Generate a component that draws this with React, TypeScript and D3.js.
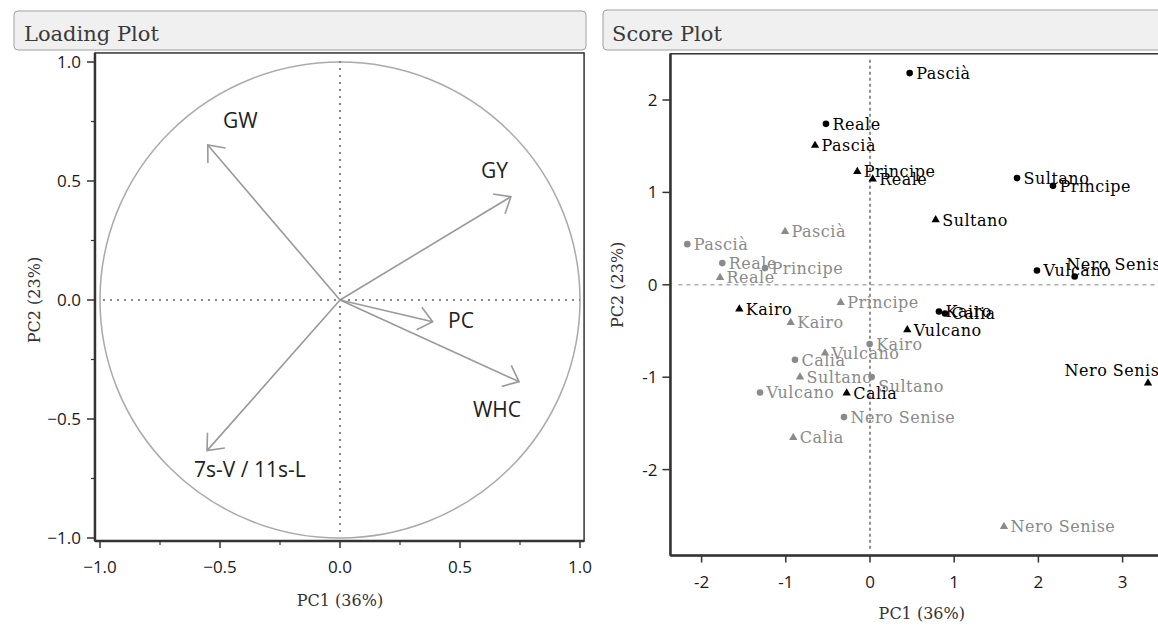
import React from "react";
import * as d3 from "d3";

// ---------- Loading plot data ----------
const loadingVars = ["GW", "GY", "PC", "WHC", "7s-V / 11s-L"];
const loadingPC1 = [-0.551, 0.712, 0.386, 0.746, -0.554];
const loadingPC2 = [0.651, 0.434, -0.091, -0.343, -0.633];
const loadingLabelPC1 = [-0.4875, 0.5875, 0.45, 0.554, -0.608];
const loadingLabelPC2 = [0.723, 0.513, -0.118, -0.492, -0.744];
const loadingTicks = [-1, -0.5, 0, 0.5, 1];
const loadingMinorTicks = [-0.75, -0.25, 0.25, 0.75];

// ---------- Score plot data ----------
const varieties = ["Pascià", "Reale", "Principe", "Sultano", "Kairo", "Vulcano", "Calia", "Nero Senise"];
const blackCirclePC1 = [0.471, -0.523, 2.173, 1.746, 0.819, 1.983, 0.891, 2.431];
const blackCirclePC2 = [2.291, 1.742, 1.071, 1.155, -0.289, 0.155, -0.31, 0.09];
const blackTrianglePC1 = [-0.653, 0.032, -0.151, 0.78, -1.552, 0.443, -0.277, 3.302];
const blackTrianglePC2 = [1.508, 1.144, 1.226, 0.703, -0.263, -0.487, -1.172, -1.064];
const grayCirclePC1 = [-2.17, -1.754, -1.247, 0.02, -0.004, -1.306, -0.891, -0.309];
const grayCirclePC2 = [0.44, 0.235, 0.181, -0.999, -0.642, -1.166, -0.812, -1.432];
const grayTrianglePC1 = [-1.009, -1.781, -0.348, -0.831, -0.942, -0.534, -0.911, 1.591];
const grayTrianglePC2 = [0.577, 0.079, -0.192, -0.999, -0.408, -0.739, -1.653, -2.616];
const scoreXTicks = [-2, -1, 0, 1, 2, 3];
const scoreYTicks = [-2, -1, 0, 1, 2];

// label nudges (pixels) for overlapping labels
const labelNudge: Record<string, [number, number]> = {
  "grayCircle|Sultano": [0, 9],
  "blackCircle|Nero Senise": [-15, -12],
  "blackTriangle|Nero Senise": [-90, -13],
};

const SANS = "'Open Sans', 'DejaVu Sans', sans-serif";
const SERIF = "'DejaVu Serif', serif";
const AXIS = "#333";

export default function App() {
  // Left: loading plot scales
  const xL = d3.scaleLinear().domain([-1, 1]).range([100, 580]);
  const yL = d3.scaleLinear().domain([-1, 1]).range([538, 62]);
  const lf = { x0: xL(-1.021), x1: xL(1.017), y0: yL(1.038), y1: yL(-1.013) };

  // Right: score plot scales
  const xS = d3.scaleLinear().domain([-2, 3]).range([701.6, 1122.6]);
  const yS = d3.scaleLinear().domain([-2, 2]).range([469.6, 100]);
  const sf = { x0: xS(-2.37), x1: xS(3.6), y0: yS(2.5), y1: yS(-2.93) };

  const triangle = d3.symbol().type(d3.symbolTriangle).size(30);

  const arrowHead = (x0: number, y0: number, x1: number, y1: number) => {
    const ang = Math.atan2(y0 - y1, x0 - x1);
    const L = 18;
    const a = (40 * Math.PI) / 180;
    const p1 = [x1 + L * Math.cos(ang + a), y1 + L * Math.sin(ang + a)];
    const p2 = [x1 + L * Math.cos(ang - a), y1 + L * Math.sin(ang - a)];
    return `M${p1[0]},${p1[1]}L${x1},${y1}L${p2[0]},${p2[1]}`;
  };

  const series = [
    { key: "grayTriangle", xs: grayTrianglePC1, ys: grayTrianglePC2, color: "#8a8a8a", shape: "tri" },
    { key: "grayCircle", xs: grayCirclePC1, ys: grayCirclePC2, color: "#8a8a8a", shape: "circ" },
    { key: "blackTriangle", xs: blackTrianglePC1, ys: blackTrianglePC2, color: "#000", shape: "tri" },
    { key: "blackCircle", xs: blackCirclePC1, ys: blackCirclePC2, color: "#000", shape: "circ" },
  ];

  return (
    <svg
      width={1158}
      height={626}
      style={{ position: "absolute", left: 0, top: 0, background: "#fff", overflow: "hidden" }}
    >
      <defs>
        <clipPath id="scoreClip">
          <rect x={sf.x0} y={sf.y0} width={sf.x1 - sf.x0} height={sf.y1 - sf.y0} />
        </clipPath>
      </defs>
      {/* Headers */}
      <rect x={14} y={11} width={572} height={39} rx={4} fill="#f0f0f0" stroke="#a0a0a0" />
      <text x={24} y={41} fontFamily={SERIF} fontSize={21} fill="#3a3a3a">Loading Plot</text>
      <rect x={603} y={10} width={570} height={40} rx={4} fill="#f0f0f0" stroke="#a0a0a0" />
      <text x={612} y={41} fontFamily={SERIF} fontSize={21} fill="#3a3a3a">Score Plot</text>

      {/* ---------- Loading plot ---------- */}
      <g>
        <rect x={lf.x0} y={lf.y0} width={lf.x1 - lf.x0} height={lf.y1 - lf.y0} fill="#fff" stroke={AXIS} strokeWidth={1.5} />
        <ellipse
          cx={xL(0)}
          cy={yL(0)}
          rx={xL(1) - xL(0)}
          ry={yL(0) - yL(1)}
          fill="none"
          stroke="#aaa"
          strokeWidth={1.5}
        />
        <line x1={xL(0)} x2={xL(0)} y1={lf.y0 + 8} y2={lf.y1 - 4} stroke="#888" strokeWidth={2} strokeDasharray="2,5" />
        <line x1={lf.x0 + 8} x2={lf.x1 - 4} y1={yL(0)} y2={yL(0)} stroke="#888" strokeWidth={2} strokeDasharray="2,5" />
        {loadingVars.map((v, i) => {
          const x0 = xL(0), y0 = yL(0), x1 = xL(loadingPC1[i]), y1 = yL(loadingPC2[i]);
          return (
            <g key={v}>
              <line x1={x0} y1={y0} x2={x1} y2={y1} stroke="#999" strokeWidth={1.6} />
              <path d={arrowHead(x0, y0, x1, y1)} fill="none" stroke="#999" strokeWidth={1.6} />
              <text x={xL(loadingLabelPC1[i])} y={yL(loadingLabelPC2[i])} fontFamily={SANS} fontSize={21} fill="#222">
                {v}
              </text>
            </g>
          );
        })}
        {/* axes */}
        <line x1={lf.x0} x2={lf.x0} y1={lf.y0} y2={lf.y1} stroke={AXIS} strokeWidth={2.5} />
        <line x1={lf.x0} x2={lf.x1} y1={lf.y1} y2={lf.y1} stroke={AXIS} strokeWidth={2.5} />
        {loadingTicks.map((t) => (
          <g key={"lx" + t}>
            <line x1={xL(t)} x2={xL(t)} y1={lf.y1} y2={lf.y1 + 7} stroke={AXIS} strokeWidth={1.5} />
            <text x={xL(t)} y={573} textAnchor="middle" fontFamily={SANS} fontSize={17} fill="#1a1a1a">
              {d3.format(".1f")(t)}
            </text>
            <line x1={lf.x0} x2={lf.x0 - 8} y1={yL(t)} y2={yL(t)} stroke={AXIS} strokeWidth={1.5} />
            <text x={lf.x0 - 14} y={yL(t)} dy="0.35em" textAnchor="end" fontFamily={SANS} fontSize={17} fill="#1a1a1a">
              {d3.format(".1f")(t)}
            </text>
          </g>
        ))}
        {loadingMinorTicks.map((t) => (
          <g key={"lm" + t}>
            <line x1={xL(t)} x2={xL(t)} y1={lf.y1} y2={lf.y1 + 4} stroke={AXIS} strokeWidth={1.2} />
            <line x1={lf.x0} x2={lf.x0 - 4} y1={yL(t)} y2={yL(t)} stroke={AXIS} strokeWidth={1.2} />
          </g>
        ))}
        <text x={xL(0)} y={606} textAnchor="middle" fontFamily={SERIF} fontSize={16} fill="#333">PC1 (36%)</text>
        <text
          transform={`translate(34,${yL(0)}) rotate(-90)`}
          textAnchor="middle"
          dy="0.35em"
          fontFamily={SERIF}
          fontSize={16}
          fill="#333"
        >
          PC2 (23%)
        </text>
      </g>

      {/* ---------- Score plot ---------- */}
      <g>
        <rect x={sf.x0} y={sf.y0} width={sf.x1 - sf.x0} height={sf.y1 - sf.y0} fill="#fff" stroke={AXIS} strokeWidth={1.5} />
        <line x1={xS(0)} x2={xS(0)} y1={sf.y0 + 6} y2={sf.y1 - 6} stroke="#555" strokeWidth={1.3} strokeDasharray="3,3" />
        <line x1={sf.x0 + 8} x2={sf.x1} y1={yS(0)} y2={yS(0)} stroke="#aaa" strokeWidth={1.5} strokeDasharray="4,4" />
        <g clipPath="url(#scoreClip)">
          {series.map((s) =>
            varieties.map((name, i) => {
              const cx = xS(s.xs[i]);
              const cy = yS(s.ys[i]);
              const nudge = labelNudge[s.key + "|" + name] || [0, 0];
              return (
                <g key={s.key + name}>
                  {s.shape === "circ" ? (
                    <circle cx={cx} cy={cy} r={3.3} fill={s.color} />
                  ) : (
                    <path d={triangle() as string} transform={`translate(${cx},${cy})`} fill={s.color} />
                  )}
                  <text
                    x={cx + 6.5 + nudge[0]}
                    y={cy + nudge[1]}
                    dy="0.36em"
                    fontFamily={SERIF}
                    fontSize={16}
                    letterSpacing={0.5}
                    fill={s.color}
                  >
                    {name}
                  </text>
                </g>
              );
            })
          )}
        </g>
        <line x1={sf.x0} x2={sf.x0} y1={sf.y0} y2={sf.y1} stroke={AXIS} strokeWidth={2.5} />
        <line x1={sf.x0} x2={sf.x1} y1={sf.y1} y2={sf.y1} stroke={AXIS} strokeWidth={2.5} />
        {scoreXTicks.map((t) => (
          <g key={"sx" + t}>
            <line x1={xS(t)} x2={xS(t)} y1={sf.y1} y2={sf.y1 + 7} stroke={AXIS} strokeWidth={1.5} />
            <text x={xS(t)} y={588} textAnchor="middle" fontFamily={SANS} fontSize={17} fill="#1a1a1a">
              {t}
            </text>
          </g>
        ))}
        {scoreYTicks.map((t) => (
          <g key={"sy" + t}>
            <line x1={sf.x0} x2={sf.x0 - 8} y1={yS(t)} y2={yS(t)} stroke={AXIS} strokeWidth={1.5} />
            <text x={sf.x0 - 13} y={yS(t)} dy="0.35em" textAnchor="end" fontFamily={SANS} fontSize={17} fill="#1a1a1a">
              {t}
            </text>
          </g>
        ))}
        <text x={(sf.x0 + sf.x1) / 2} y={619} textAnchor="middle" fontFamily={SERIF} fontSize={16} fill="#333">
          PC1 (36%)
        </text>
        <text
          transform={`translate(617,${yS(0)}) rotate(-90)`}
          textAnchor="middle"
          dy="0.35em"
          fontFamily={SERIF}
          fontSize={16}
          fill="#333"
        >
          PC2 (23%)
        </text>
      </g>
    </svg>
  );
}
